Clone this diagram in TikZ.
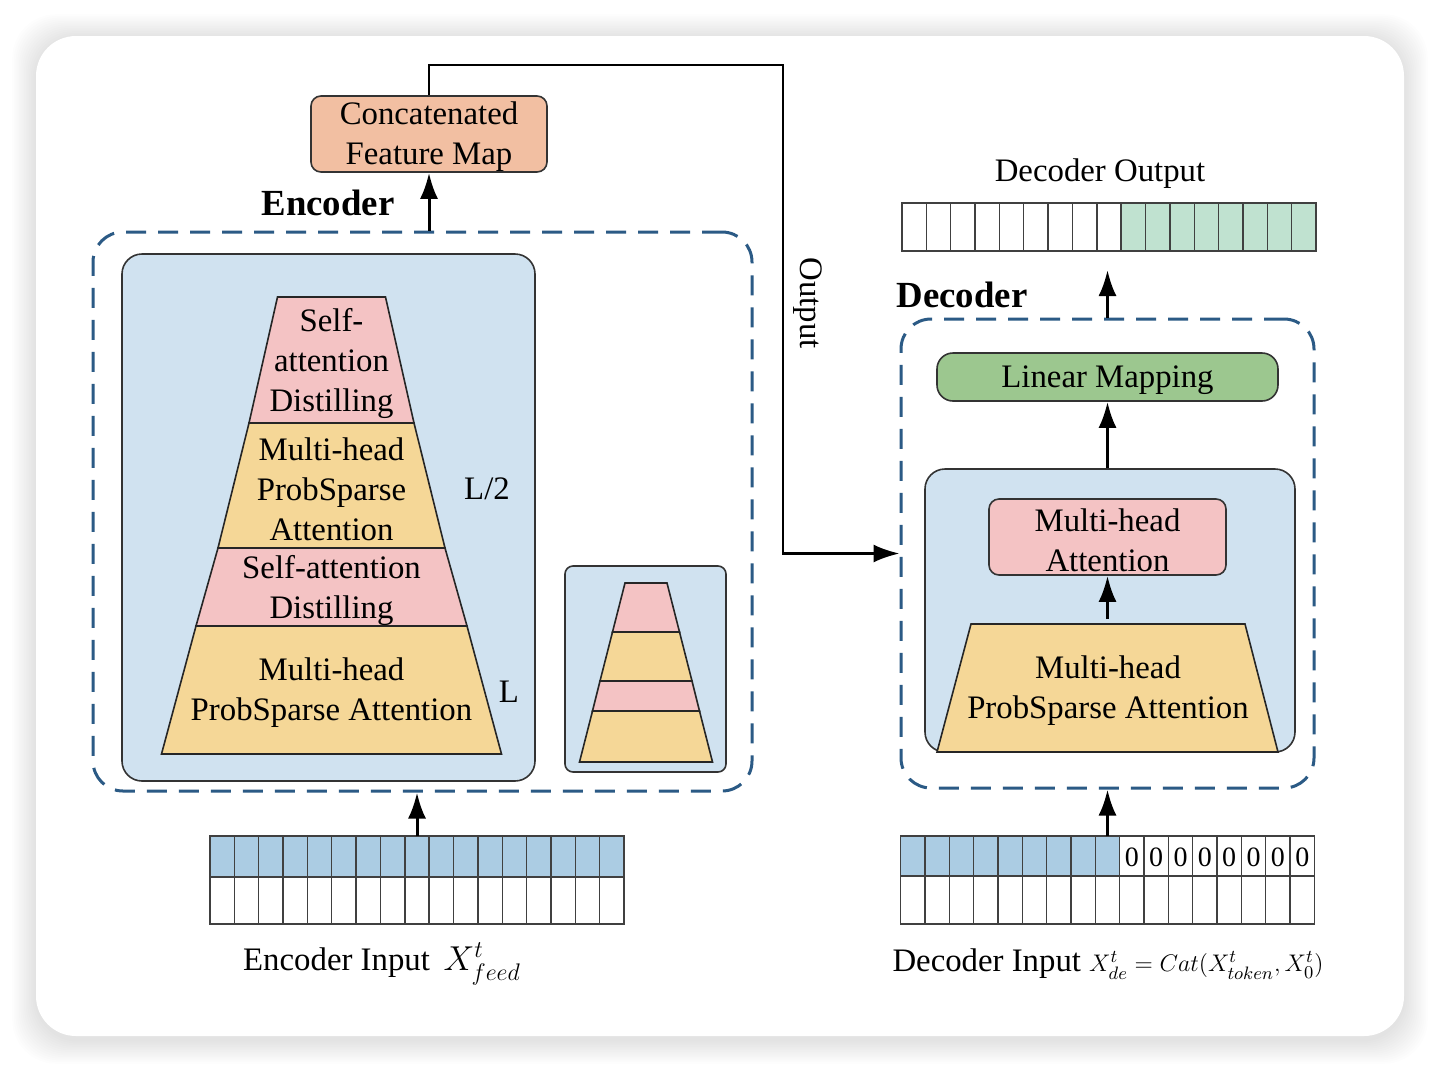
\documentclass[tikz,border=0pt]{standalone}
\usepackage{amsmath}
\usepackage{fontspec}
\setmainfont{Liberation Serif}
\usepackage{tikz}
\usetikzlibrary{calc}
\usetikzlibrary{arrows.meta}

\definecolor{dashblue}{HTML}{2B5A85}
\definecolor{panelblue}{HTML}{D0E2F0}
\definecolor{pinkc}{HTML}{F4C3C4}
\definecolor{yellowc}{HTML}{F5D797}
\definecolor{peach}{HTML}{F2BFA2}
\definecolor{lingreen}{HTML}{9CC78F}
\definecolor{outgreen}{HTML}{C0E2D0}
\definecolor{inblue}{HTML}{ABCCE3}

\begin{document}
\begin{tikzpicture}[x=0.5pt, y=-0.5pt,
    txt/.style={font=\fontsize{16.4}{20}\selectfont, align=center, text=black},
    head/.style={font=\fontsize{18.4}{22}\selectfont\bfseries, text=black},
    box/.style={draw=black!80, line width=0.8pt, rounded corners=5pt, inner sep=0pt},
    dashbox/.style={draw=dashblue, line width=1.5pt, dash pattern=on 10pt off 6pt, rounded corners=15pt, inner sep=0pt},
    layer/.style={draw=black!85, line width=0.8pt},
    cell/.style={draw=black!75, line width=0.7pt},
    arr/.style={-{Latex[length=13pt,width=9pt]}, line width=1.5pt, black}]

        \useasboundingbox (0,0) rectangle (1440,1072);

        % Parameters
        \def\cx{331.5}   % axis of the big pyramid
        \def\sx{646}     % axis of the small pyramid
        \def\cw{24.35}   % width of one cell

        % Draw the card and its shadow
        \fill[white] (0,0) rectangle (1440,1072);
        \foreach \s in {1,...,14}
            \fill[black, opacity=0.009, rounded corners=22pt] (36-1.7*\s, 38-1.7*\s) rectangle (1404+1.7*\s, 1040+1.7*\s);
        \fill[white, rounded corners=20pt] (36,36) rectangle (1404,1036);

        % Encoder frame and panel
        \node[dashbox, minimum width=329.5pt, minimum height=279.5pt] (enc) at (422.5,511.5) {};
        \draw[box, fill=panelblue, rounded corners=10pt] (122,254) rectangle (535,781);
        \draw[box, fill=panelblue, rounded corners=4pt] (565,566) rectangle (726,772);

        % Draw the pyramid (y top / half width / y bottom / half width / colour)
        \foreach \ya/\wa/\yb/\wb/\col in {297/54/423/82.5/pinkc, 423/82.5/548/113.5/yellowc,
                548/113.5/626/135.5/pinkc, 626/135.5/754/170/yellowc}
            \draw[layer, fill=\col] (\cx-\wa,\ya) -- (\cx+\wa,\ya) -- (\cx+\wb,\yb) -- (\cx-\wb,\yb) -- cycle;

        % Draw the small pyramid
        \foreach \ya/\wa/\yb/\wb/\col in {583/21/632/33.5/pinkc, 632/33.5/681/46/yellowc,
                681/46/711/53.5/pinkc, 711/53.5/762/66.5/yellowc}
            \draw[layer, fill=\col] (\sx-\wa,\ya) -- (\sx+\wa,\ya) -- (\sx+\wb,\yb) -- (\sx-\wb,\yb) -- cycle;

        % Labels of the layers
        \node[txt] (sad1) at (\cx,363) {Self-\\attention\\Distilling};
        \node[txt] (mpa1) at (\cx,489) {Multi-head\\ProbSparse\\Attention};
        \node[txt] (sad2) at (\cx,590) {Self-attention\\Distilling};
        \node[txt] (mpa2) at (\cx,693) {Multi-head\\ProbSparse Attention};
        \node[txt] (lhalf) at (487,489) {L/2};
        \node[txt] (lfull) at (509,692) {L};

        % Concatenated feature map
        \node[box, fill=peach, minimum width=118pt, minimum height=38pt] (concat) at (429,134) {};
        \node[txt] (concattxt) at (429,137) {Concatenated\\Feature Map};
        \node[head] (enclbl) at (328,203) {Encoder};

        % Encoder input
        \coordinate (encin) at (417,836);
        \foreach \i in {0,...,16} {
            \draw[cell, fill=inblue] (210+\i*\cw,836) rectangle ++(\cw,41);
            \draw[cell, fill=white] (210+\i*\cw,877) rectangle ++(\cw,47);
        }
        \node[txt] (encinlbl) at (382,964) {Encoder Input\,\ $X^t_{feed}$};

        % Decoder frame and panel
        \node[dashbox, minimum width=206.5pt, minimum height=234.5pt] (dec) at (1107.5,553.5) {};
        \node[head] (declbl) at (962,295) {Decoder};
        \node[box, fill=panelblue, rounded corners=10pt, minimum width=185pt, minimum height=141.5pt] (decpanel) at (1110,610.5) {};
        \node[box, fill=lingreen, rounded corners=8pt, minimum width=170.5pt, minimum height=24pt] (lin) at (1107.5,377) {};
        \node[txt] (lintxt) at (1107.5,380) {Linear Mapping};
        \node[box, fill=pinkc, minimum width=118.5pt, minimum height=38pt] (mha) at (1107.5,537) {};
        \node[txt] (mhatxt) at (1107.5,540) {Multi-head\\Attention};

        % Trapezoid of the decoder
        \coordinate (traptop) at (1107.5,619);
        \draw[layer, fill=yellowc] (971,624) -- (1245,624) -- (1278,752) -- (937,752) -- cycle;
        \node[txt] (mpa3) at (1108,691) {Multi-head\\ProbSparse Attention};

        % Decoder output
        \coordinate (outtip) at (1107.5,270);
        \foreach \i in {0,...,16} {
            \ifnum\i<9
                \draw[cell, fill=white] (902+\i*\cw,203) rectangle ++(\cw,48);
            \else
                \draw[cell, fill=outgreen] (902+\i*\cw,203) rectangle ++(\cw,48);
            \fi
        }
        \node[txt] (outlbl) at (1100,174) {Decoder Output};

        % Decoder input
        \coordinate (decin) at (1107.5,836);
        \foreach \i in {0,...,8} {
            \draw[cell, fill=inblue] (900.5+\i*\cw,836) rectangle ++(\cw,40);
        }
        \foreach \i in {9,...,16} {
            \draw[cell, fill=white] (900.5+\i*\cw,836) rectangle ++(\cw,40);
            \node[font=\fontsize{14}{16}\selectfont] (z\i) at (900.5+\i*\cw+\cw/2,857) {0};
        }
        \foreach \i in {0,...,16}
            \draw[cell, fill=white] (900.5+\i*\cw,876) rectangle ++(\cw,48);
        \node[txt] (decinlbl) at (1108,964) {Decoder Input {\fontsize{12.5}{14}\selectfont$X^t_{de}=Cat(X^t_{token},X^t_0)$}};

        % Draw the connectors
        \coordinate (bend) at (783,65);
        \draw[arr] (concat |- enc.north) -- (concat.south);
        \draw[arr] (encin) -- (encin |- enc.south);
        \draw[arr, line width=1.3pt] (concat.north) |- (bend) |- (dec.west);
        \node[txt, rotate=-90] (outword) at (808,303) {Output};
        \draw[arr] (decin) -- (dec.south);
        \draw[arr] (traptop) -- (mha.south);
        \draw[arr] (decpanel.north -| lin) -- (lin.south);
        \draw[arr] (dec.north) -- (outtip);

\end{tikzpicture}
\end{document}
